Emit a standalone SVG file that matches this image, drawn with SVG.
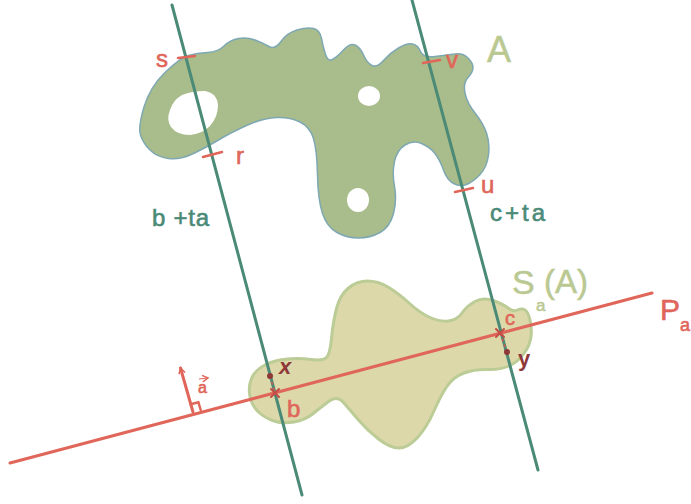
<svg xmlns="http://www.w3.org/2000/svg" width="691" height="504" viewBox="0 0 691 504">
<defs>
<style>
.blobA{fill:#a9bc8b;stroke:#7ea8b2;stroke-width:1.5}
.hole{fill:#ffffff;stroke:none}
.blobS{fill:#dcd8aa;stroke:#bccc96;stroke-width:3}
.gline{stroke:#4b8a77;stroke-width:3;fill:none;stroke-linecap:round}
.rline{stroke:#e0665a;stroke-width:3;fill:none;stroke-linecap:round}
.tick{stroke:#e0665a;stroke-width:2.5;fill:none;stroke-linecap:round}
.cross{stroke:#c24e45;stroke-width:2;fill:none;stroke-linecap:round}
.dash{stroke:#d0564c;stroke-width:1.5;stroke-dasharray:3 3;fill:none}
.lbl{font-family:"Liberation Sans","DejaVu Sans",sans-serif}
.red{fill:#e0665a;stroke:#e0665a;stroke-width:0.6}
.dred{fill:#8e3838;font-weight:bold}
.green{fill:#4b8a77;stroke:#4b8a77;stroke-width:0.6}
.lgreen{fill:#bac892;stroke:#bac892;stroke-width:0.5}
</style>
<marker id="arr" viewBox="0 0 10 10" refX="8" refY="5" markerWidth="8" markerHeight="8" orient="auto" markerUnits="userSpaceOnUse">
<path d="M1,1 L8,5 L1,9" fill="none" stroke="#e0665a" stroke-width="1.8"/>
</marker>
</defs>
<rect width="691" height="504" fill="#ffffff"/>

<g id="setA">
<path class="blobA" d="M140.5,135 Q138,127 144,107 Q150,87 165,72.5 Q180,58 188.5,55.5 Q197,53 207.5,52.5 Q218,52 224,46 Q230,40 238.5,38.5 Q247,37 255,40 Q263,43 269,46.5 Q275,50 281,41.5 Q287,33 297,30 Q307,27 313.5,28.5 Q320,30 321.5,38.5 Q323,47 325.5,54.5 Q328,62 332.5,59.5 Q337,57 343.5,50 Q350,43 355,45 Q360,47 363.5,55 Q367,63 372,65.5 Q377,68 383.5,60.5 Q390,53 398.5,48 Q407,43 412.5,44 Q418,45 420.5,51.5 Q423,58 435,56.5 Q447,55 455,54 Q463,53 468,58 Q473,63 473,67.5 Q473,72 468,77.5 Q463,83 465,93 Q467,103 475,113 Q483,123 486.5,133 Q490,143 488.5,155 Q487,167 480,174.5 Q473,182 466.5,184.5 Q460,187 453.5,183.5 Q447,180 443.5,170 Q440,160 435,153.5 Q430,147 421.5,143.5 Q413,140 405,145 Q397,150 394.5,161.5 Q392,173 394.5,186.5 Q397,200 393.5,213.5 Q390,227 380,232.5 Q370,238 358.5,238 Q347,238 337,232.5 Q327,227 322.5,213.5 Q318,200 317.5,175 Q317,150 313.5,138.5 Q310,127 300,122 Q290,117 276.5,117.5 Q263,118 246.5,125.5 Q230,133 218.5,140 Q207,147 193.5,153.5 Q180,160 168.5,158.5 Q157,157 150,150 Q143,143 140.5,135 Z"/>
<path class="hole" d="M170,110 Q173,100 182,95 Q192,91 205,91 Q217,93 218,105 Q218,117 210,126 Q202,134 190,135 Q177,135 171,127 Q166,120 170,110 Z"/>
<ellipse class="hole" cx="369" cy="96" rx="11" ry="10"/>
<ellipse class="hole" cx="358" cy="200" rx="11" ry="12"/>
</g>

<g id="setSa">
<path class="blobS" d="M250,396.5 Q248,387 251.5,378.5 Q255,370 265,365 Q275,360 287.5,359 Q300,358 311,359.5 Q322,361 326,358 Q330,355 331.5,338.5 Q333,322 336.5,308.5 Q340,295 348.5,288 Q357,281 367.5,281 Q378,281 388,287 Q398,293 409,303 Q420,313 430,317.5 Q440,322 448.5,321 Q457,320 462,313 Q467,306 475,301.5 Q483,297 493,300.5 Q503,304 508,308 Q513,312 517.5,310 Q522,308 525,310 Q528,312 530,320 Q532,328 531,336.5 Q530,345 524,353.5 Q518,362 509,366 Q500,370 487.5,369.5 Q475,369 464,373 Q453,377 446.5,387 Q440,397 433.5,412 Q427,427 417.5,437.5 Q408,448 399,448 Q390,448 378.5,439 Q367,430 358.5,420 Q350,410 343.5,402.5 Q337,395 328.5,401.5 Q320,408 312.5,414 Q305,420 294,422 Q283,424 274,421 Q265,418 258.5,412 Q252,406 250,396.5 Z"/>
</g>

<g id="connectors">
<line id="line-b" class="gline" x1="172" y1="5" x2="302" y2="495"/>
<line id="line-c" class="gline" x1="412" y1="0" x2="538" y2="470"/>
<line id="plane-Pa" class="rline" x1="10" y1="463" x2="652" y2="293"/>
<line id="vec-a" class="rline" stroke-width="2" x1="193" y1="412" x2="180.5" y2="368" marker-end="url(#arr)"/>
<polyline class="tick" stroke-width="1.8" points="190.7,404.3 198.4,402.2 200.7,410"/>
<line class="tick" x1="178" y1="58" x2="195" y2="56"/>
<line class="tick" x1="203" y1="157" x2="222" y2="152"/>
<line class="tick" x1="423" y1="63" x2="440" y2="60"/>
<line class="tick" x1="455" y1="192" x2="473" y2="188"/>
<line class="dash" x1="270" y1="376" x2="275" y2="393"/>
<line class="dash" x1="500" y1="333" x2="507" y2="352"/>
<path class="cross" d="M271,389 L279,397 M279,389 L271,397"/>
<path class="cross" d="M496,329 L504,337 M504,329 L496,337"/>
<circle cx="270" cy="376" r="3" fill="#8e3838"/>
<circle cx="507" cy="352" r="3" fill="#8e3838"/>
</g>

<g id="labels" class="lbl">
<text class="red" x="156" y="67" font-size="24">s</text>
<text class="red" x="236" y="164" font-size="24">r</text>
<text class="red" x="446" y="68" font-size="24">v</text>
<text class="red" x="481" y="193" font-size="24">u</text>
<text class="lgreen" x="487" y="62" font-size="36">A</text>
<text class="green" x="152" y="226" font-size="24" textLength="57">b +ta</text>
<text class="green" x="490" y="221" font-size="24" textLength="55">c+ta</text>
<text class="lgreen" x="512" y="294" font-size="34">S</text>
<text class="lgreen" x="536" y="311" font-size="17">a</text>
<text class="lgreen" x="544" y="293" font-size="33">(A)</text>
<text class="red" x="660" y="320" font-size="30">P</text>
<text class="red" x="680" y="331" font-size="18">a</text>
<text class="red" x="505" y="325" font-size="20">c</text>
<text class="dred" x="518" y="366" font-size="22">y</text>
<text class="dred" x="279" y="374" font-size="22" font-style="italic">x</text>
<text class="red" x="287" y="417" font-size="24">b</text>
<text class="red" x="198" y="393" font-size="16">a</text>
<line x1="199" y1="379" x2="208" y2="378" stroke="#e0665a" stroke-width="1.2" marker-end="url(#arr)"/>
</g>
</svg>
